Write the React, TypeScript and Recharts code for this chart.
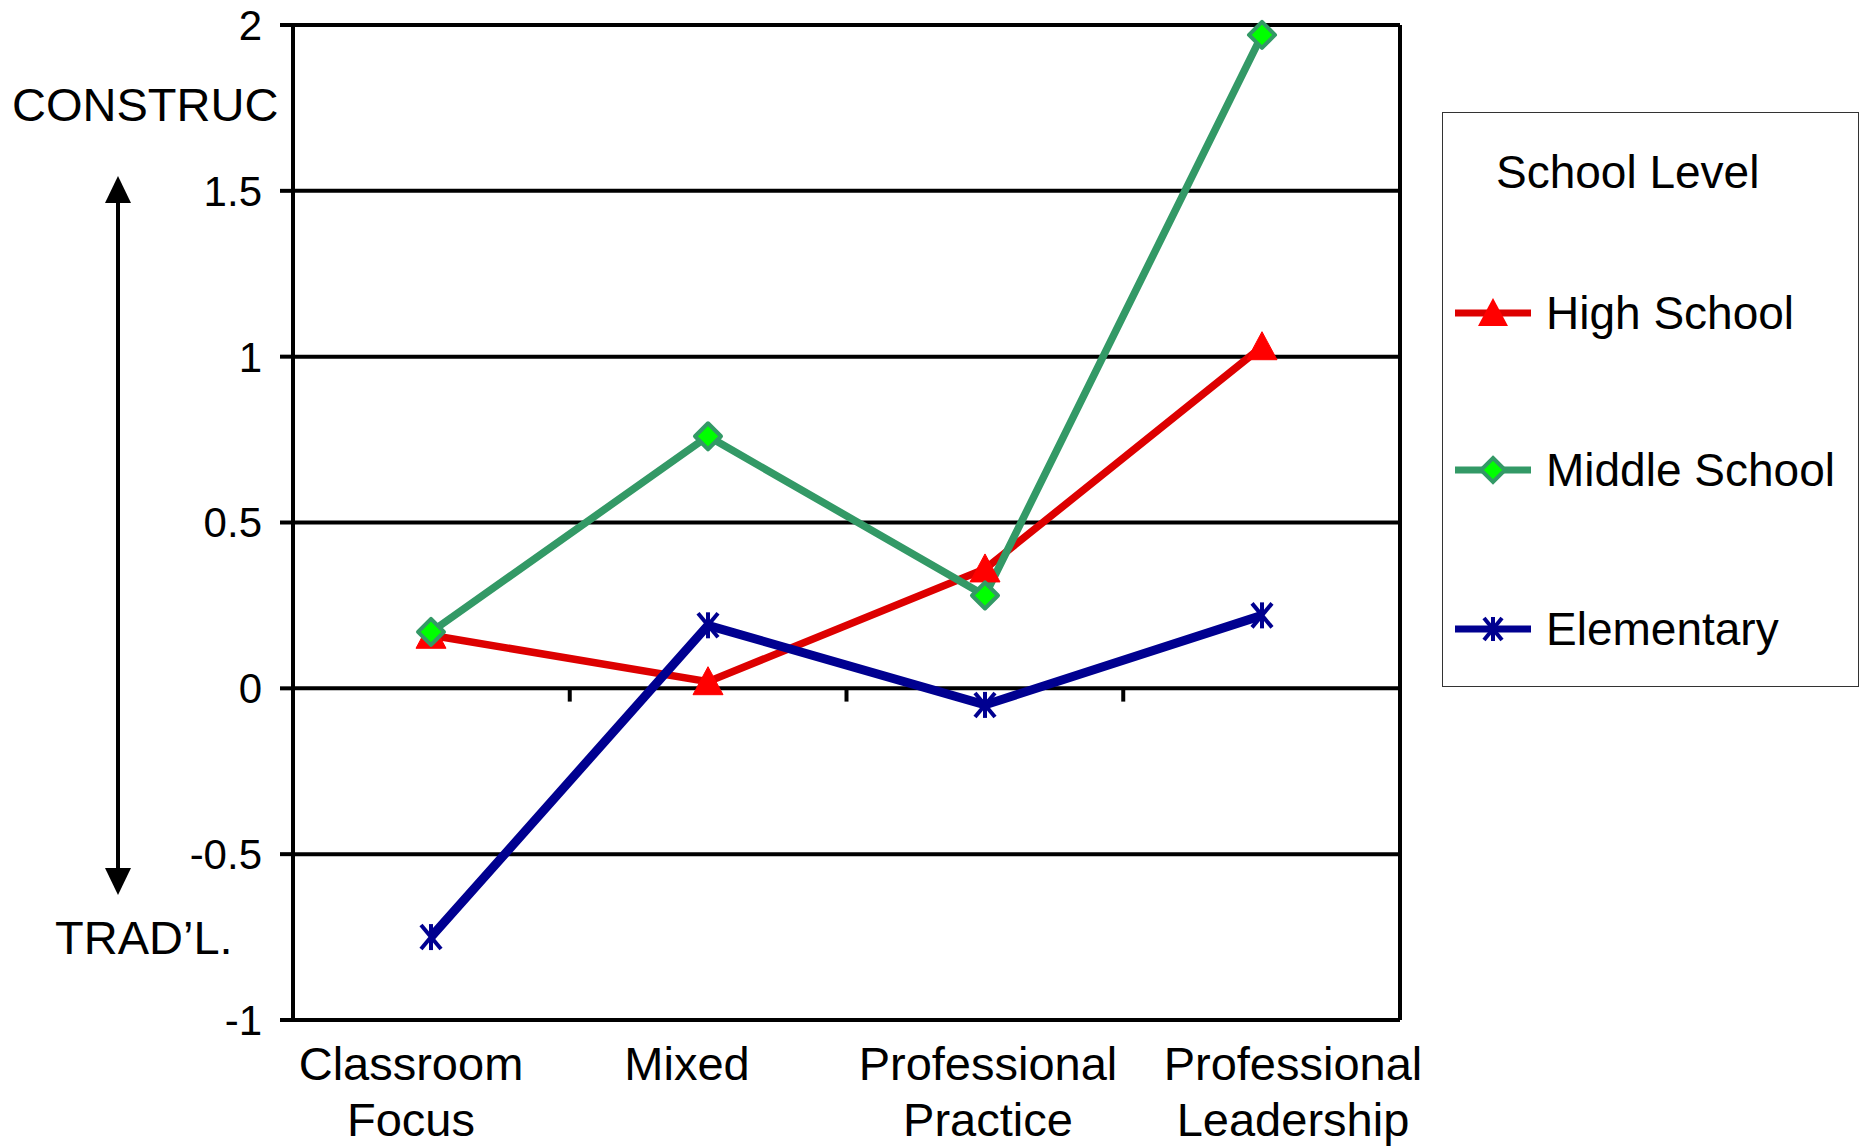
import React from "react";
import {
  LineChart,
  Line,
  XAxis,
  YAxis,
  CartesianGrid,
  ReferenceLine,
} from "recharts";

const categories = ["Classroom Focus", "Mixed", "Professional Practice", "Professional Leadership"];
const highSchool = [0.16, 0.02, 0.36, 1.03];
const middleSchool = [0.17, 0.76, 0.28, 1.97];
const elementary = [-0.75, 0.19, -0.05, 0.22];
const yTicks = [-1, -0.5, 0, 0.5, 1, 1.5, 2];

const data = categories.map((category, i) => ({
  category,
  high: highSchool[i],
  middle: middleSchool[i],
  elementary: elementary[i],
}));

const FONT = '"Liberation Sans", Arial, sans-serif';
const RED = "#FF0000";
const RED_LINE = "#DD0000";
const GREEN = "#339966";
const GREEN_FILL = "#00FF00";
const NAVY = "#000090";

// nudges for the two-line category labels, the way the original layout sets them
const labelShift = [-20, -21, 3, 31];

const TriangleDot = (props: any) => {
  const { cx, cy } = props;
  if (cx == null || cy == null) return null;
  return (
    <path
      key={`tri-${props.index}`}
      d={`M${cx},${cy - 15} L${cx + 15},${cy + 13} L${cx - 15},${cy + 13} Z`}
      fill={RED}
      stroke={RED}
      strokeWidth={1}
      strokeLinejoin="round"
    />
  );
};

const DiamondDot = (props: any) => {
  const { cx, cy } = props;
  if (cx == null || cy == null) return null;
  return (
    <path
      key={`dia-${props.index}`}
      d={`M${cx},${cy - 13} L${cx + 13},${cy} L${cx},${cy + 13} L${cx - 13},${cy} Z`}
      fill={GREEN_FILL}
      stroke={GREEN}
      strokeWidth={4}
      strokeLinejoin="round"
    />
  );
};

const AsteriskDot = (props: any) => {
  const { cx, cy } = props;
  if (cx == null || cy == null) return null;
  return (
    <g key={`ast-${props.index}`} stroke={NAVY} strokeWidth={4}>
      <line x1={cx} y1={cy - 13} x2={cx} y2={cy + 13} />
      <line x1={cx - 10} y1={cy - 12} x2={cx + 10} y2={cy + 12} />
      <line x1={cx - 10} y1={cy + 12} x2={cx + 10} y2={cy - 12} />
    </g>
  );
};

const CategoryTick = (props: any) => {
  const { x, y, payload, index } = props;
  const words = String(payload.value).split(" ");
  const shift = labelShift[index] || 0;
  return (
    <text
      x={x + shift}
      y={y}
      textAnchor="middle"
      fill="#000"
      fontSize={47}
      fontFamily={FONT}
    >
      {words.map((w, i) => (
        <tspan key={i} x={x + shift} dy={i === 0 ? "0.71em" : 56}>
          {w}
        </tspan>
      ))}
    </text>
  );
};

const LegendRow = ({ top, label, marker }: { top: number; label: string; marker: React.ReactNode }) => (
  <div style={{ position: "absolute", left: 10, top: top - 30, height: 60, display: "flex", alignItems: "center" }}>
    <svg width={80} height={60} style={{ display: "block" }}>
      {marker}
    </svg>
    <span style={{ marginLeft: 13, fontSize: 46, fontFamily: FONT, color: "#000", whiteSpace: "nowrap" }}>{label}</span>
  </div>
);

export default function App() {
  return (
    <div style={{ position: "absolute", left: 0, top: 0, width: 1866, height: 1146, background: "#fff" }}>
      <LineChart
        width={1866}
        height={1146}
        data={data}
        margin={{ top: 25, right: 466, bottom: 0, left: 0 }}
      >
        <CartesianGrid
          horizontal
          vertical={false}
          stroke="#000"
          strokeWidth={4}
          strokeOpacity={1}
        />
        <XAxis
          dataKey="category"
          height={126}
          interval={0}
          padding={{ left: 138, right: 138 }}
          axisLine={{ stroke: "#000", strokeWidth: 4 }}
          tickLine={false}
          tickSize={0}
          tick={<CategoryTick />}
          tickMargin={27}
        />
        {/* band axis used only to place the category boundary marks and right frame */}
        <XAxis xAxisId="bands" dataKey="category" scale="band" hide />
        <YAxis
          width={293}
          domain={[-1, 2]}
          ticks={yTicks}
          interval={0}
          axisLine={{ stroke: "#000", strokeWidth: 4 }}
          tickLine={{ stroke: "#000", strokeWidth: 4 }}
          tickSize={13}
          tickMargin={18}
          tick={{ fill: "#000", fontSize: 42, fontFamily: FONT }}
        />
        <ReferenceLine
          xAxisId="bands"
          x={categories[categories.length - 1]}
          position="end"
          stroke="#000"
          strokeWidth={4}
        />
        {categories.slice(1).map((c) => (
          <ReferenceLine
            key={c}
            xAxisId="bands"
            position="start"
            segment={[
              { x: c, y: 0 },
              { x: c, y: -0.04 },
            ]}
            stroke="#000"
            strokeWidth={4}
          />
        ))}
        <Line
          dataKey="high"
          name="High School"
          stroke={RED_LINE}
          strokeWidth={7.5}
          dot={TriangleDot}
          activeDot={false}
          isAnimationActive={false}
        />
        <Line
          dataKey="middle"
          name="Middle School"
          stroke={GREEN}
          strokeWidth={7.5}
          dot={DiamondDot}
          activeDot={false}
          isAnimationActive={false}
        />
        <Line
          dataKey="elementary"
          name="Elementary"
          stroke={NAVY}
          strokeWidth={9}
          dot={AsteriskDot}
          activeDot={false}
          isAnimationActive={false}
        />
      </LineChart>

      {/* direction arrow and its end captions */}
      <svg width={240} height={1146} style={{ position: "absolute", left: 0, top: 0 }}>
        <line x1={118} y1={196} x2={118} y2={876} stroke="#000" strokeWidth={4} />
        <path d="M118,176 L131,203 L105,203 Z" fill="#000" />
        <path d="M118,895 L131,868 L105,868 Z" fill="#000" />
      </svg>
      <div style={{ position: "absolute", left: 12, top: 105 - 28, fontSize: 47, lineHeight: "56px", fontFamily: FONT }}>
        CONSTRUC
      </div>
      <div style={{ position: "absolute", left: 55, top: 938 - 28, fontSize: 47, lineHeight: "56px", fontFamily: FONT }}>
        TRAD’L.
      </div>

      {/* legend box */}
      <div
        style={{
          position: "absolute",
          left: 1442,
          top: 112,
          width: 417,
          height: 575,
          border: "1.5px solid #333",
          boxSizing: "border-box",
        }}
      >
        <div style={{ position: "absolute", left: 53, top: 59 - 28, fontSize: 46, lineHeight: "56px", fontFamily: FONT, whiteSpace: "nowrap" }}>
          School Level
        </div>
        <LegendRow
          top={200}
          label="High School"
          marker={
            <>
              <line x1={2} y1={30} x2={78} y2={30} stroke={RED_LINE} strokeWidth={7} />
              <path d="M40,15 L55,43 L25,43 Z" fill={RED} />
            </>
          }
        />
        <LegendRow
          top={357}
          label="Middle School"
          marker={
            <>
              <line x1={2} y1={30} x2={78} y2={30} stroke={GREEN} strokeWidth={7} />
              <path d="M40,18 L52,30 L40,42 L28,30 Z" fill={GREEN_FILL} stroke={GREEN} strokeWidth={4} />
            </>
          }
        />
        <LegendRow
          top={516}
          label="Elementary"
          marker={
            <>
              <line x1={2} y1={30} x2={78} y2={30} stroke={NAVY} strokeWidth={7} />
              <g stroke={NAVY} strokeWidth={4}>
                <line x1={40} y1={18} x2={40} y2={42} />
                <line x1={31} y1={19} x2={49} y2={41} />
                <line x1={31} y1={41} x2={49} y2={19} />
              </g>
            </>
          }
        />
      </div>
    </div>
  );
}
